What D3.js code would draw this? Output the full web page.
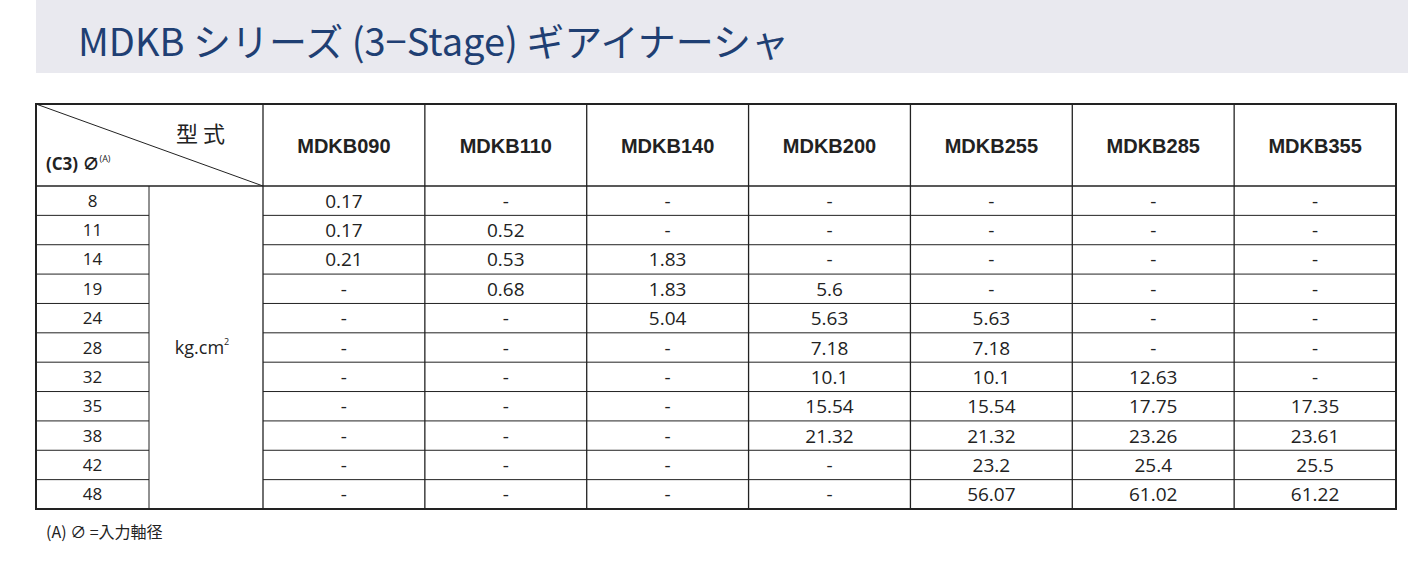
<!DOCTYPE html>
<html><head><meta charset="utf-8">
<script src="https://cdn.jsdelivr.net/npm/d3@7"></script>
<style>body{margin:0;background:#fff;}</style>
</head><body>
<svg id="chart" width="1408" height="569"></svg>
<script>
// table data
const title = "MDKB シリーズ (3−Stage)  ギアイナーシャ";
const models = ["MDKB090", "MDKB110", "MDKB140", "MDKB200", "MDKB255", "MDKB285", "MDKB355"];
const diameters = ["8", "11", "14", "19", "24", "28", "32", "35", "38", "42", "48"];
const values = [
  ["0.17", "-", "-", "-", "-", "-", "-"],
  ["0.17", "0.52", "-", "-", "-", "-", "-"],
  ["0.21", "0.53", "1.83", "-", "-", "-", "-"],
  ["-", "0.68", "1.83", "5.6", "-", "-", "-"],
  ["-", "-", "5.04", "5.63", "5.63", "-", "-"],
  ["-", "-", "-", "7.18", "7.18", "-", "-"],
  ["-", "-", "-", "10.1", "10.1", "12.63", "-"],
  ["-", "-", "-", "15.54", "15.54", "17.75", "17.35"],
  ["-", "-", "-", "21.32", "21.32", "23.26", "23.61"],
  ["-", "-", "-", "-", "23.2", "25.4", "25.5"],
  ["-", "-", "-", "-", "56.07", "61.02", "61.22"]
];
const unit = "kg.cm";
const footnote = "(A)  ∅ =入力軸径";

const svg = d3.select("#chart");
const tLeft = 36, tRight = 1396, tTop = 104, headBottom = 186, tBottom = 509;
const col0 = 149, col1 = 263;
const font = "'Open Sans', 'Noto Sans CJK JP', sans-serif";

// title band
svg.append("rect").attr("x", 36).attr("y", 0).attr("width", 1372).attr("height", 73).attr("fill", "#e9e9ef");
svg.append("text").attr("x", 78).attr("y", 56).attr("font-family", "'Noto Sans CJK JP', sans-serif")
  .attr("font-size", 38).attr("fill", "#1f3f73").text(title);

const x = d3.scaleBand().domain(models).range([col1, tRight]);
const y = d3.scaleBand().domain(diameters).range([headBottom, tBottom]);

const g = svg.append("g").attr("stroke", "#222").attr("fill", "none");
// outer border
g.append("rect").attr("x", tLeft).attr("y", tTop).attr("width", tRight - tLeft).attr("height", tBottom - tTop).attr("stroke-width", 2);
g.append("line").attr("x1", tLeft).attr("x2", tRight).attr("y1", headBottom).attr("y2", headBottom).attr("stroke-width", 1.5);
// row lines
diameters.slice(1).forEach(d => {
  g.append("line").attr("x1", tLeft).attr("x2", col0).attr("y1", y(d)).attr("y2", y(d));
  g.append("line").attr("x1", col1).attr("x2", tRight).attr("y1", y(d)).attr("y2", y(d));
});
// column lines
g.append("line").attr("x1", col0).attr("x2", col0).attr("y1", headBottom).attr("y2", tBottom);
models.forEach(m => {
  g.append("line").attr("x1", x(m)).attr("x2", x(m)).attr("y1", tTop).attr("y2", tBottom).attr("stroke-width", 1.3);
});
// diagonal
g.append("line").attr("x1", tLeft).attr("y1", tTop).attr("x2", col1).attr("y2", headBottom);

// header texts
svg.append("text").attr("x", 176).attr("y", 142).attr("font-family", "'Noto Sans CJK JP', sans-serif")
  .attr("font-size", 22).attr("fill", "#222").text("型  式");
const hd = svg.append("text").attr("x", 46).attr("y", 170).attr("font-family", font).attr("font-weight", "bold")
  .attr("font-size", 17).attr("fill", "#222");
hd.append("tspan").text("(C3) ∅");
hd.append("tspan").attr("font-size", 9).attr("dy", -8).attr("font-weight", "normal").text("(A)");

svg.selectAll(".model").data(models).join("text")
  .attr("x", d => x(d) + x.bandwidth() / 2).attr("y", 153)
  .attr("text-anchor", "middle").attr("font-family", "Arial, 'Liberation Sans', sans-serif")
  .attr("font-weight", "bold").attr("font-size", 20).attr("fill", "#222").text(d => d);

// row labels
svg.selectAll(".dia").data(diameters).join("text")
  .attr("x", (tLeft + col0) / 2).attr("y", d => y(d) + y.bandwidth() / 2 + 6)
  .attr("text-anchor", "middle").attr("font-family", font).attr("font-size", 17).attr("fill", "#222").text(d => d);

// unit
const ut = svg.append("text").attr("x", (col0 + col1) / 2 - 4).attr("y", (headBottom + tBottom) / 2 + 6)
  .attr("text-anchor", "middle").attr("font-family", font).attr("font-size", 18).attr("fill", "#222");
ut.append("tspan").text(unit);
ut.append("tspan").attr("font-size", 9).attr("dy", -9).text("2");

// values
values.forEach((row, i) => {
  svg.selectAll(".r" + i).data(row).join("text")
    .attr("x", (d, j) => x(models[j]) + x.bandwidth() / 2)
    .attr("y", y(diameters[i]) + y.bandwidth() / 2 + 7)
    .attr("text-anchor", "middle").attr("font-family", font).attr("font-size", 19).attr("fill", "#222")
    .text(d => d);
});

svg.append("text").attr("x", 46).attr("y", 538).attr("font-family", "'Noto Sans CJK JP', sans-serif")
  .attr("font-size", 16).attr("fill", "#222").text(footnote);
</script>
</body></html>
